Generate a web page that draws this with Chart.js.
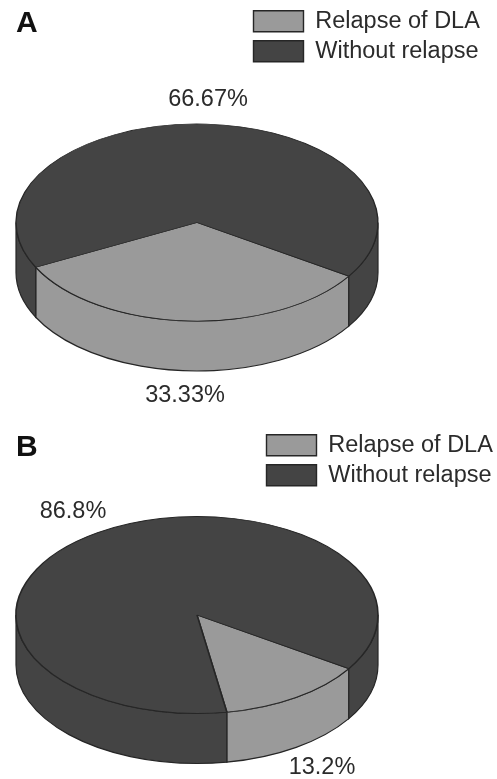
<!DOCTYPE html>
<html>
<head>
<meta charset="utf-8">
<title>Relapse of DLA</title>
<script src="https://cdn.jsdelivr.net/npm/chart.js@4"></script>
<style>
  html, body { margin: 0; padding: 0; background: #fff; }
  #page { position: relative; width: 497px; height: 779px; overflow: hidden; }
  canvas { position: absolute; left: 0; }
</style>
</head>
<body>
<div id="page">
  <canvas id="chartA" width="497" height="415" style="top:0"></canvas>
  <canvas id="chartB" width="497" height="390" style="top:389px"></canvas>
</div>
<script>
// Data
const categories = ['Relapse of DLA', 'Without relapse'];
const valuesA = [33.33, 66.67];
const valuesB = [13.2, 86.8];
const valueLabelsA = ['33.33%', '66.67%'];
const valueLabelsB = ['13.2%', '86.8%'];

const LIGHT = '#9a9a9a';
const DARK = '#444444';
const EDGE = '#262626';
const TEXT = '#2b2b2b';
const FONT = '"Liberation Sans", Arial, sans-serif';

// Tilts the pie: top face is squashed to an ellipse, side wall is drawn under it
const tiltedPie = {
    id: 'tiltedPie',
    afterLayout(chart, args, opts) {
        // move the legend to the top right corner
        const legend = chart.legend;
        const pad = legend.options.labels.padding;
        legend.left = opts.legendX - pad;
        legend.right = chart.width;
        legend.top = opts.legendY - pad;
        legend.bottom = chart.height;
    },
    beforeDatasetsDraw(chart, args, opts) {
        const ctx = chart.ctx;
        const arcs = chart.getDatasetMeta(0).data;
        const first = arcs[0];

        // side wall, only the part of each slice on the front half is visible
        arcs.forEach((arc, i) => {
            [0, Math.PI * 2].forEach(turn => {
                const from = Math.max(arc.startAngle, turn);
                const to = Math.min(arc.endAngle, turn + Math.PI);
                if (to <= from) return;
                ctx.beginPath();
                ctx.ellipse(opts.cx, opts.cy, opts.rx, opts.ry, 0, from, to);
                ctx.ellipse(opts.cx, opts.cy + opts.depth, opts.rx, opts.ry, 0, to, from, true);
                ctx.closePath();
                ctx.fillStyle = chart.data.datasets[0].backgroundColor[i];
                ctx.fill();
                ctx.lineWidth = 1.2;
                ctx.strokeStyle = EDGE;
                ctx.stroke();
            });
        });

        // top face goes through the library's own arcs, just squashed
        ctx.save();
        ctx.translate(opts.cx, opts.cy);
        ctx.scale(opts.rx / first.outerRadius, opts.ry / first.outerRadius);
        ctx.translate(-first.x, -first.y);
    },
    afterDatasetsDraw(chart, args, opts) {
        const ctx = chart.ctx;
        ctx.restore();

        ctx.fillStyle = TEXT;
        ctx.font = '23.5px ' + FONT;
        ctx.textAlign = 'center';
        ctx.textBaseline = 'middle';
        opts.valueLabels.forEach((text, i) => {
            ctx.fillText(text, opts.labelPos[i][0], opts.labelPos[i][1]);
        });
    }
};

function createPie(canvasId, letter, values, valueLabels, geometry) {
    const ctx = document.getElementById(canvasId).getContext('2d');
    return new Chart(ctx, {
        type: 'pie',
        plugins: [tiltedPie],
        data: {
            labels: categories,
            datasets: [{
                data: values,
                backgroundColor: [LIGHT, DARK],
                borderColor: EDGE,
                borderWidth: 1.4,
                hoverOffset: 0,
                clip: false
            }]
        },
        options: {
            responsive: false,
            animation: false,
            events: [],
            rotation: 123,
            layout: { padding: { left: 16 } },
            plugins: {
                title: {
                    display: true,
                    text: letter,
                    align: 'start',
                    color: '#111',
                    font: { family: FONT, size: 30, weight: 'bold' },
                    padding: { top: geometry.titleTop, bottom: 0 }
                },
                legend: {
                    position: 'chartArea',
                    align: 'start',
                    labels: {
                        boxWidth: 50,
                        boxHeight: 21,
                        padding: 6.5,
                        color: TEXT,
                        font: { family: FONT, size: 23.5 }
                    }
                },
                tooltip: { enabled: false },
                tiltedPie: Object.assign({ valueLabels: valueLabels }, geometry)
            }
        }
    });
}

createPie('chartA', 'A', valuesA, valueLabelsA, {
    cx: 197, cy: 222.5, rx: 181, ry: 98.5, depth: 50,
    legendX: 253.5, legendY: 9.5,
    titleTop: 6,
    labelPos: [[185, 396], [208, 100]]
});

createPie('chartB', 'B', valuesB, valueLabelsB, {
    cx: 197, cy: 226, rx: 181, ry: 98.5, depth: 50,
    legendX: 266.5, legendY: 44.5,
    titleTop: 41,
    labelPos: [[322, 379], [73, 123]]
});
</script>
</body>
</html>
